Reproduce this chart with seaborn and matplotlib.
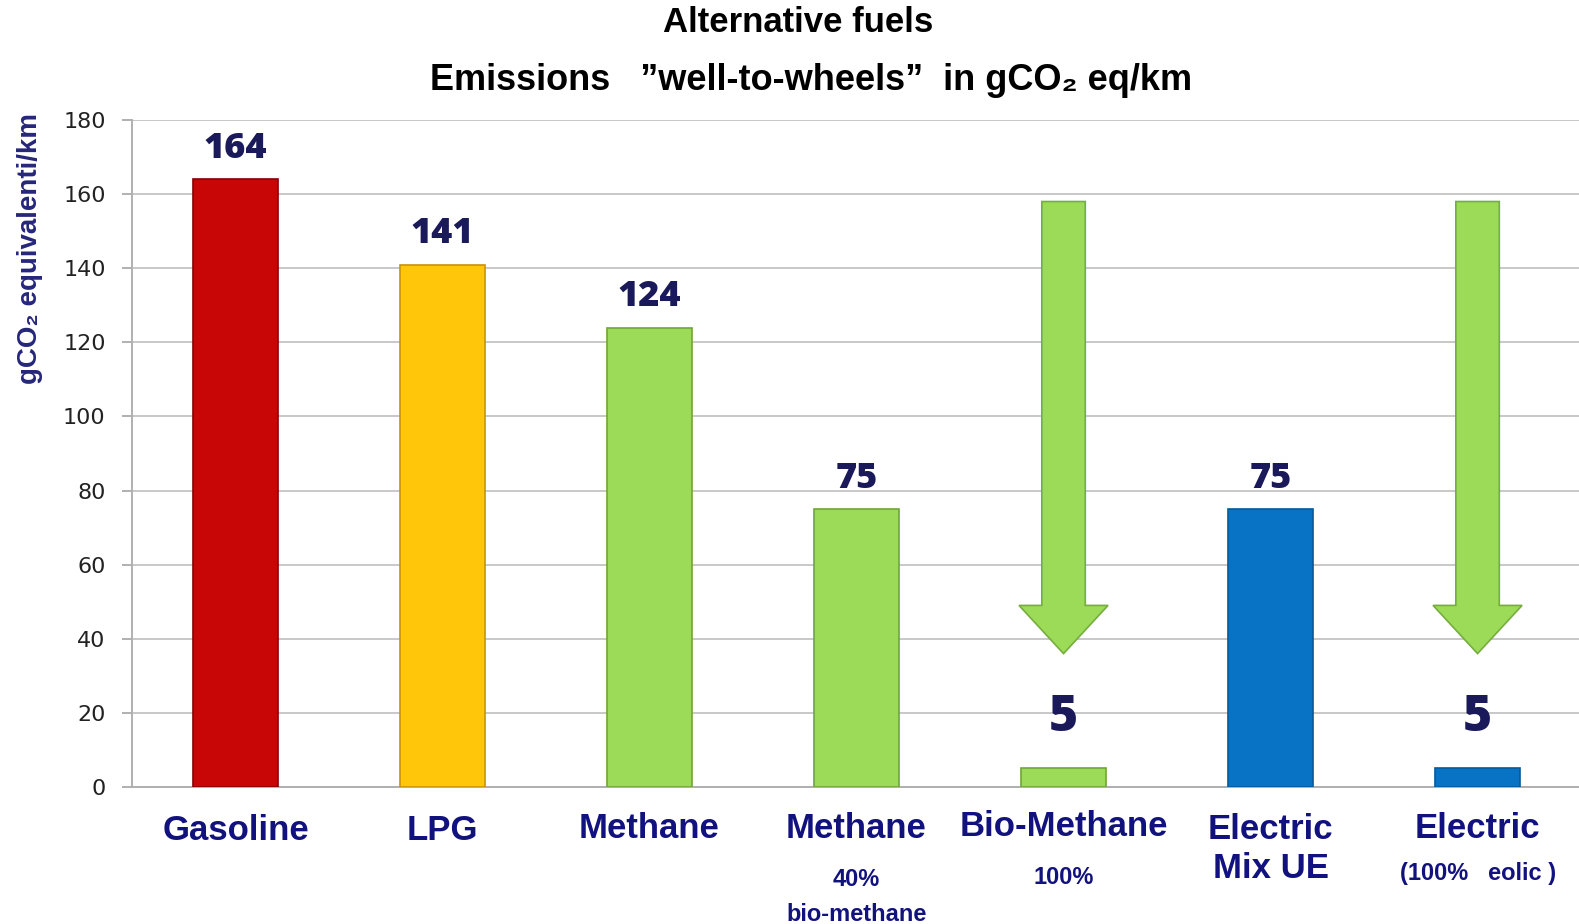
import matplotlib
matplotlib.use("Agg")
import matplotlib.pyplot as plt
import seaborn as sns
import pandas as pd

# ---- data ----
categories = ["Gasoline", "LPG", "Methane", "Methane 40%", "Bio-Methane", "Electric Mix UE", "Electric eolic"]
values = [164, 141, 124, 75, 5, 75, 5]
main_labels = ["Gasoline", "LPG", "Methane", "Methane", "Bio-Methane", "Electric\nMix UE", "Electric"]
sub_labels = ["", "", "", "40%\nbio-methane", "100%", "", "(100%   eolic )"]
bar_colors = ["#c80606", "#ffc60a", "#9bdb58", "#9bdb58", "#9bdb58", "#0873c4", "#0873c4"]
edge_colors = ["#8a0000", "#c99400", "#6fa63a", "#6fa63a", "#6fa63a", "#045a9a", "#045a9a"]
arrow_cats = [4, 6]
arrow_from = 158
arrow_to = 36
yticks = [0, 20, 40, 60, 80, 100, 120, 140, 160, 180]

sns.set_style("white")
plt.rcParams['font.family'] = ['Liberation Sans', 'DejaVu Sans']

W, H = 1579, 924
fig = plt.figure(figsize=(W / 100, H / 100), dpi=100)
ax_left, ax_right, ax_bottom_px, ax_top_px = 132, 1579, 787, 120
ax = fig.add_axes([ax_left / W, 1 - ax_bottom_px / H, (ax_right - ax_left) / W,
                   (ax_bottom_px - ax_top_px) / H])

df = pd.DataFrame({"cat": categories, "val": values})
sns.barplot(data=df, x="cat", y="val", hue="cat", palette=bar_colors, legend=False,
            width=0.41, saturation=1, ax=ax, zorder=3)
for patch, ec in zip(ax.patches, edge_colors):
    patch.set_edgecolor(ec)
    patch.set_linewidth(1.2)

ax.set_xlim(-0.5, 6.49)
ax.set_ylim(0, 180)
ax.set_yticks(yticks)
ax.set_yticklabels([str(t) for t in yticks], fontsize=16, color="#222222",
                   family=['DejaVu Sans'])
ax.yaxis.grid(True, color="#c8c8c8", linewidth=1.4, zorder=0)
ax.set_axisbelow(True)
ax.tick_params(axis="y", length=7, width=1.4, color="#b0b0b0", pad=12, left=True)
ax.tick_params(axis="x", length=0, labelbottom=False)
for s in ["top", "right"]:
    ax.spines[s].set_visible(False)
for s in ["left", "bottom"]:
    ax.spines[s].set_color("#b0b0b0")
    ax.spines[s].set_linewidth(1.4)
ax.set_xlabel("")
ax.set_ylabel("")

# arrows
for c in arrow_cats:
    ax.arrow(c, arrow_from, 0, arrow_to - arrow_from, width=0.21, head_width=0.43,
             head_length=13, length_includes_head=True, facecolor="#9bdb58",
             edgecolor="#76ad3f", linewidth=1.2, zorder=4)

# value labels
for i, v in enumerate(values):
    if v < 10:
        ax.text(i, v + 13.5, str(v), ha="center", va="center", fontsize=36,
                fontweight=800, color="#1a1a5a", family=['Open Sans', 'DejaVu Sans'], zorder=5)
    else:
        ax.text(i, v + 8.2, str(v), ha="center", va="center", fontsize=26,
                fontweight=800, color="#1a1a5a", family=['Open Sans', 'DejaVu Sans'], zorder=5)

def yfrac(py):
    return (ax_bottom_px - py) / (ax_bottom_px - ax_top_px)

tr = ax.get_xaxis_transform()
navy = "#12127e"
main_y = [831, 830, 829, 828, 827, 849, 828]
for i, lab in enumerate(main_labels):
    ax.text(i, yfrac(main_y[i]), lab, transform=tr, ha="center", va="center",
            fontsize=25, fontweight="bold", color=navy, linespacing=1.25, clip_on=False)
sub_y = [0, 0, 0, 897, 877, 0, 873]
for i, lab in enumerate(sub_labels):
    if lab:
        ax.text(i, yfrac(sub_y[i]), lab, transform=tr, ha="center", va="center",
                fontsize=17, fontweight="bold", color=navy, linespacing=1.65,
                family=['Liberation Sans Narrow', 'Liberation Sans'], clip_on=False)

# titles
fig.text(798 / W, 1 - 22 / H, "Alternative fuels", ha="center", va="center",
         fontsize=25, fontweight="bold", color="black")
fig.text(811 / W, 1 - 80 / H, "Emissions   \u201dwell-to-wheels\u201d  in gCO\u2082 eq/km",
         ha="center", va="center", fontsize=26, fontweight="bold", color="black",
         family=['Liberation Sans', 'DejaVu Sans'])

# y label
fig.text(30 / W, 1 - 248 / H, "gCO\u2082 equivalenti/km", ha="center", va="center",
         rotation=90, fontsize=20, fontweight="bold", color="#26267a",
         family=['Liberation Sans', 'DejaVu Sans'])

fig.savefig("out.png", dpi=100, facecolor="white")
